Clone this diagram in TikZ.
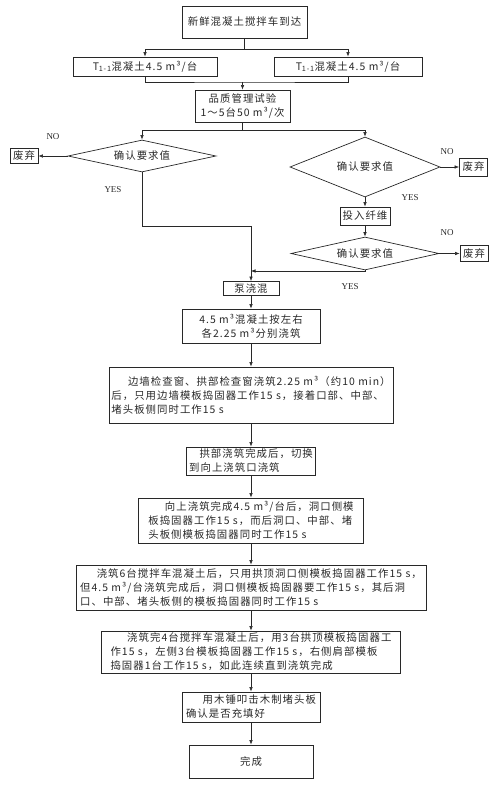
\documentclass[tikz,border=0pt]{standalone}
\usepackage{fontspec}
\setmainfont{Liberation Serif}
\newfontfamily\cjk[LetterSpace=10]{Noto Sans CJK SC}
\usetikzlibrary{shapes.geometric,arrows.meta}
\definecolor{ink}{RGB}{40,40,40}

\begin{document}
\begin{tikzpicture}[
  x=1pt,y=-1pt,
  font=\cjk\fontsize{10.4}{14}\selectfont,text=ink,
  box/.style={rectangle,draw=ink,line width=0.8pt,inner sep=2pt},
  txtbox/.style={box,align=left},
  decide/.style={diamond,draw=ink,line width=0.7pt,inner sep=0pt},
  waste/.style={box,inner sep=1pt,minimum width=28pt},
  arr/.style={-{Latex[length=4.5pt,width=3.5pt]},draw=ink,line width=0.6pt},
  link/.style={draw=ink,line width=0.6pt},
  yn/.style={font=\fontsize{9}{10}\selectfont},
]
\useasboundingbox (0,0) rectangle (500,786);

% upper part
\node[box,minimum width=125pt,minimum height=32pt] (arrive) at (244.5,22) {新鲜混凝土搅拌车到达};
\node[box,minimum width=144pt,minimum height=19pt] (tl) at (145,66.5) {T\textsubscript{1-1}混凝土4.5 m³/台};
\node[box,minimum width=148pt,minimum height=19pt] (tr) at (348,66.5) {T\textsubscript{1-1}混凝土4.5 m³/台};
\node[box,align=center,minimum width=95pt,minimum height=32pt] (qc) at (242.5,106) {品质管理试验\\1～5台50 m³/次};

\node[decide,aspect=4.6,minimum width=148pt,minimum height=32pt] (dl) at (142,156) {确认要求值};
\node[decide,aspect=2.5,minimum width=150pt,minimum height=60pt] (dr) at (365,167) {确认要求值};
\node[box,minimum width=50pt,minimum height=18pt,inner sep=1pt] (fiber) at (365,216) {投入纤维};
\node[decide,aspect=4.5,minimum width=148pt,minimum height=33pt] (d3) at (365,253.5) {确认要求值};

\node[waste,minimum height=15pt] (wl) at (24,156) {废弃};
\node[waste,minimum height=18pt] (wr1) at (473.5,167) {废弃};
\node[waste,minimum height=16pt] (wr2) at (474,253.5) {废弃};

\node[yn] (nol) at (53,137) {NO};
\node[yn] (yesl) at (113,190) {YES};
\node[yn] (nor1) at (447,152) {NO};
\node[yn] (yesr1) at (410,198) {YES};
\node[yn] (nor2) at (447,233) {NO};
\node[yn] (yesr2) at (350,287) {YES};

% main column
\node[box,minimum width=56pt,minimum height=14pt,inner sep=1pt] (pump) at (251,288.5) {泵浇混};
\node[box,align=center,minimum width=138pt,minimum height=34pt] (split) at (251,326) {4.5 m³混凝土按左右\\各2.25 m³分别浇筑};
\node[txtbox,minimum width=284pt,minimum height=56pt] (b10) at (251,395) {\hspace*{1.6em}边墙检查窗、拱部检查窗浇筑2.25 m³（约10 min）\\后，只用边墙模板捣固器工作15 s，接着口部、中部、\\堵头板侧同时工作15 s};
\node[txtbox,minimum width=129pt,minimum height=28pt] (b11) at (251,461) {\hspace*{1em}拱部浇筑完成后，切换\\到向上浇筑口浇筑};
\node[txtbox,minimum width=225pt,minimum height=45pt] (b12) at (251,520.5) {\hspace*{1.6em}向上浇筑完成4.5 m³/台后，洞口侧模\\板捣固器工作15 s，而后洞口、中部、堵\\头板侧模板捣固器同时工作15 s};
\node[txtbox,minimum width=350pt,minimum height=45pt] (b13) at (251,587.5) {\hspace*{1.6em}浇筑6台搅拌车混凝土后，只用拱顶洞口侧模板捣固器工作15 s，\\但4.5 m³/台浇筑完成后，洞口侧模板捣固器要工作15 s，其后洞\\口、中部、堵头板侧的模板捣固器同时工作15 s};
\node[txtbox,minimum width=299pt,minimum height=40pt] (b14) at (251,652) {\hspace*{1.6em}浇筑完4台搅拌车混凝土后，用3台拱顶模板捣固器工\\作15 s，左侧3台模板捣固器工作15 s，右侧肩部模板\\捣固器1台工作15 s，如此连续直到浇筑完成};
\node[txtbox,minimum width=138pt,minimum height=30pt] (b15) at (251,707) {\hspace*{1.6em}用木锤叩击木制堵头板\\确认是否充填好};
\node[box,minimum width=124pt,minimum height=33pt] (done) at (251,761.5) {完成};

% junctions
\coordinate (s1) at (244.5,49);
\coordinate (m1) at (242.5,82);
\coordinate (s2) at (242.5,130);
\coordinate (j1) at (251,226);
\coordinate (j2) at (251,271);

% connectors
\draw[link] (arrive) -- (s1);
\draw[arr] (s1) -| (tl);
\draw[arr] (s1) -| (tr);
\draw[link] (tl) |- (m1) -| (tr);
\draw[arr] (m1) -- (qc);
\draw[link] (qc) -- (s2);
\draw[arr] (s2) -| (dl);
\draw[arr] (s2) -| (dr);

\draw[arr] (dl) -- (wl);
\draw[arr] (dr) -- (wr1);
\draw[arr] (d3) -- (wr2);
\draw[arr] (dr) -- (fiber);
\draw[arr] (fiber) -- (d3);
\draw[link] (dl) |- (j1);
\draw[arr] (d3) |- (j2);
\draw[arr] (j1) -- (pump);

\draw[arr] (pump) -- (split);
\draw[arr] (split) -- (b10);
\draw[arr] (b10) -- (b11);
\draw[arr] (b11) -- (b12);
\draw[arr] (b12) -- (b13);
\draw[arr] (b13) -- (b14);
\draw[arr] (b14) -- (b15);
\draw[arr] (b15) -- (done);

\end{tikzpicture}
\end{document}
